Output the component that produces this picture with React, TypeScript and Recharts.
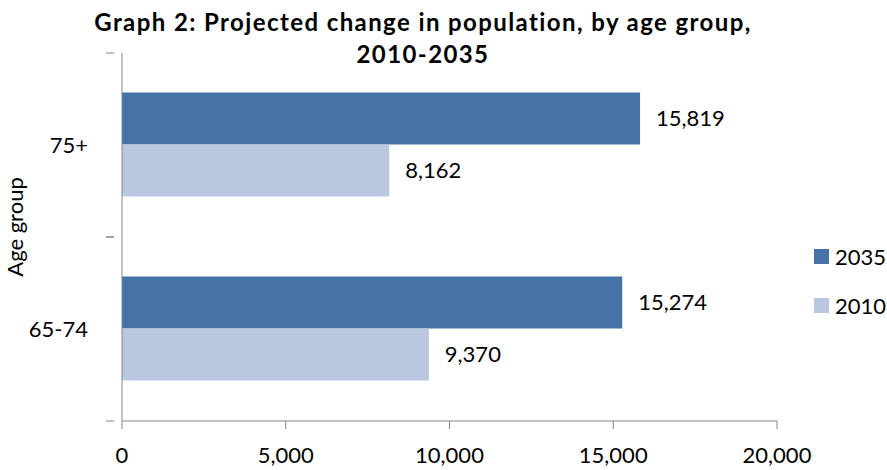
import { BarChart, Bar, XAxis, YAxis, LabelList } from "recharts";

const ageGroups = ["75+", "65-74"];
const pop2035 = [15819, 15274];
const pop2010 = [8162, 9370];
const xTicks = [0, 5000, 10000, 15000, 20000];

const data = ageGroups.map((g, i) => ({ group: g, y2035: pop2035[i], y2010: pop2010[i] }));

const FONT = "Lato, 'Open Sans', sans-serif";
const AXIS = "#868686";
const DARK = "#4572A7";
const LIGHT = "#B9C7E0";
const fmt = (v: any) => Number(v).toLocaleString("en-US");

// category tick: label at band centre, tick marks at band edges
const GroupTick = (props: any) => {
  const { x, y, payload } = props;
  const half = 92;
  return (
    <g>
      <line x1={x - 8} x2={x} y1={y - half} y2={y - half} stroke={AXIS} />
      <line x1={x - 8} x2={x} y1={y + half} y2={y + half} stroke={AXIS} />
      <text x={x - 26} y={y} dy="0.35em" textAnchor="end" fontSize={22} fontFamily={FONT} fill="#000">
        {payload.value}
      </text>
    </g>
  );
};

const AgeLabel = (props: any) => {
  const vb = props.viewBox;
  const cx = 15;
  const cy = vb.y + vb.height / 2 - 10;
  return (
    <text x={cx} y={cy} transform={`rotate(-90 ${cx} ${cy})`} textAnchor="middle" dy="0.35em"
      fontSize={22} fontFamily={FONT} fill="#000">
      Age group
    </text>
  );
};

export default function App() {
  return (
    <div style={{ position: "relative", width: 887, height: 470, background: "#fff", fontFamily: FONT }}>
      <style>{`body{margin:0}`}</style>
      <div style={{ position: "absolute", left: 0, top: 6, width: 846, textAlign: "center", fontWeight: 700, fontSize: 24, lineHeight: "32px", letterSpacing: "1.4px", color: "#000" }}>
        Graph 2: Projected change in population, by age group,<br />2010-2035
      </div>
      <BarChart width={887} height={470} data={data} layout="vertical"
        margin={{ top: 53, right: 110, bottom: 0, left: 0 }} barCategoryGap="21.5%" barGap={0}>
        <XAxis type="number" domain={[0, 20000]} ticks={xTicks} tickFormatter={fmt} height={49}
          stroke={AXIS} tickSize={8} tickMargin={18} interval={0}
          tick={{ fill: "#000", fontSize: 22, fontFamily: FONT }} />
        <YAxis type="category" dataKey="group" width={122} stroke={AXIS} tickLine={false}
          tick={<GroupTick />} label={{ content: <AgeLabel /> }} />
        <Bar dataKey="y2035" name="2035" fill={DARK} isAnimationActive={false}>
          <LabelList dataKey="y2035" position="right" offset={16} formatter={fmt} fill="#000" fontSize={22} fontFamily={FONT} />
        </Bar>
        <Bar dataKey="y2010" name="2010" fill={LIGHT} isAnimationActive={false}>
          <LabelList dataKey="y2010" position="right" offset={16} formatter={fmt} fill="#000" fontSize={22} fontFamily={FONT} />
        </Bar>
      </BarChart>
      {[{ name: "2035", color: DARK, top: 249 }, { name: "2010", color: LIGHT, top: 298 }].map((l) => (
        <div key={l.name} style={{ position: "absolute", left: 814, top: l.top, height: 15, display: "flex", alignItems: "center" }}>
          <span style={{ width: 15, height: 15, background: l.color, display: "inline-block" }} />
          <span style={{ marginLeft: 6, fontSize: 22, color: "#000", lineHeight: "15px" }}>{l.name}</span>
        </div>
      ))}
    </div>
  );
}
